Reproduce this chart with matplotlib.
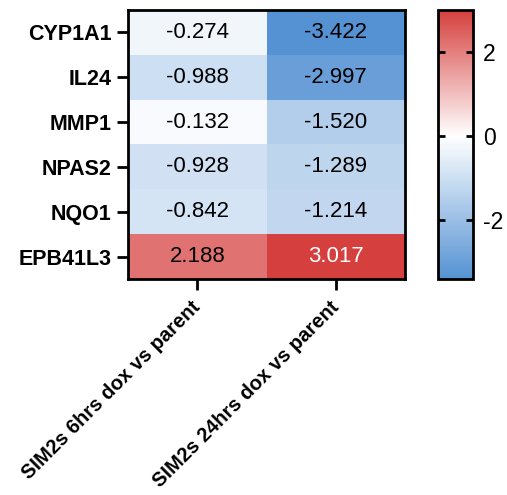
import numpy as np
import matplotlib
matplotlib.use("Agg")
import matplotlib.pyplot as plt
from matplotlib.colors import LinearSegmentedColormap, Normalize

genes = ["CYP1A1", "IL24", "MMP1", "NPAS2", "NQO1", "EPB41L3"]
conditions = ["SIM2s 6hrs dox vs parent", "SIM2s 24hrs dox vs parent"]
fc_6h = [-0.274, -0.988, -0.132, -0.928, -0.842, 2.188]
fc_24h = [-3.422, -2.997, -1.520, -1.289, -1.214, 3.017]
cbar_ticks = [-2, 0, 2]

plt.rcParams["font.family"] = ["Liberation Sans", "DejaVu Sans"]

data = np.column_stack([fc_6h, fc_24h])
vmin, vmax = data.min(), data.max()
mid = -vmin / (vmax - vmin)
cmap = LinearSegmentedColormap.from_list(
    "bwr_prism", [(0.0, "#5592D3"), (mid, "#FFFFFF"), (1.0, "#D5403E")])
norm = Normalize(vmin=vmin, vmax=vmax)

fig = plt.figure(figsize=(5.07, 4.95), dpi=100)
ax = fig.add_axes([0.2525, 0.4364, 0.5464, 0.5434])
cax = fig.add_axes([0.8639, 0.4364, 0.069, 0.5434])

im = ax.imshow(data, cmap=cmap, norm=norm, aspect="auto")
n_rows, n_cols = data.shape
for i in range(n_rows):
    for j in range(n_cols):
        v = data[i, j]
        ax.text(j, i, f"{v:.3f}", ha="center", va="center", fontsize=16,
                color="white" if v > 2.5 else "black")

ax.set_xticks(range(n_cols))
ax.set_yticks(range(n_rows))
ax.set_yticklabels(genes, fontsize=15.5, fontweight="bold")
ax.set_xticklabels(conditions, fontsize=14.5, fontweight="bold",
                   rotation=45, ha="right", va="center",
                   rotation_mode="anchor")
ax.tick_params(axis="both", length=8, width=2, pad=4)
ax.tick_params(axis="x", pad=10)
for s in ax.spines.values():
    s.set_linewidth(2)

cb = fig.colorbar(im, cax=cax, ticks=cbar_ticks)
cb.outline.set_linewidth(2)
cax.tick_params(length=5, width=2, direction="in", left=True, right=True,
                labelsize=16.5, pad=7)
cax.set_yticklabels([f"{t:g}" for t in cbar_ticks])

fig.savefig("out.png", dpi=100, facecolor="white")
